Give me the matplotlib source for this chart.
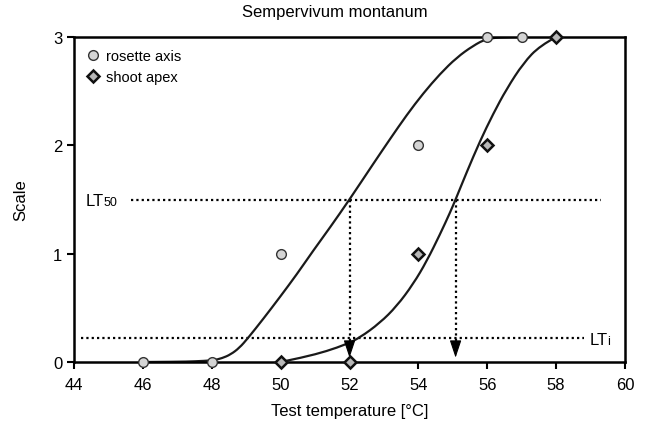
import matplotlib
matplotlib.use("Agg")
import matplotlib.pyplot as plt
from matplotlib.path import Path
from matplotlib.patches import PathPatch

plt.rcParams['font.family'] = ['Liberation Sans', 'DejaVu Sans']

# measured points
rosette_t = [46, 48, 50, 54, 56, 57]
rosette_s = [0, 0, 1, 2, 3, 3]
shoot_t = [50, 52, 54, 56, 58]
shoot_s = [0, 0, 1, 2, 3]

# fitted curves
rosette_fit_t = [46, 47, 47.5, 48.04, 48.3, 48.55, 48.8, 49.05, 49.50, 49.98, 50.47,
                 50.95, 51.43, 52.0, 52.69, 53.18, 53.66, 54.14, 54.63, 55.11, 55.59,
                 55.98, 56.5, 57.0]
rosette_fit_s = [0, 0.002, 0.006, 0.015, 0.035, 0.07, 0.13, 0.22, 0.40, 0.60, 0.81,
                 1.03, 1.24, 1.50, 1.83, 2.06, 2.28, 2.48, 2.66, 2.81, 2.92,
                 2.985, 3.0, 3.0]
shoot_fit_t = [50, 50.66, 51.34, 51.92, 52.30, 52.88, 53.37, 53.85, 54.24, 54.63, 54.92,
               55.08, 55.40, 55.79, 56.17, 56.56, 57.05, 57.53, 58.0]
shoot_fit_s = [0, 0.043, 0.10, 0.166, 0.225, 0.36, 0.515, 0.72, 0.93, 1.18, 1.38,
               1.50, 1.75, 2.04, 2.29, 2.52, 2.76, 2.92, 3.0]

lt50 = 1.5
lti = 0.22
lt50_rosette = 52.0
lt50_shoot = 55.08


def smooth_path(xs, ys):
    # quadratic Bezier through the midpoints, read points act as control points
    pts = list(zip(xs, ys))
    verts = [pts[0]]
    codes = [Path.MOVETO]
    for i in range(1, len(pts) - 1):
        mid = ((pts[i][0] + pts[i + 1][0]) / 2, (pts[i][1] + pts[i + 1][1]) / 2)
        if i == len(pts) - 2:
            mid = pts[-1]
        verts += [pts[i], mid]
        codes += [Path.CURVE3, Path.CURVE3]
    return Path(verts, codes)


fig = plt.figure(figsize=(6.46, 4.35), dpi=100)
ax = fig.add_axes([0.1146, 0.1655, 0.8529, 0.7471])

dots = (0, (1, 1.4))
ax.plot([45.65, 59.3], [lt50, lt50], color='black', lw=1.6, ls=dots, zorder=1)
ax.plot([44.2, 58.8], [lti, lti], color='black', lw=1.6, ls=dots, zorder=1)

for xv in [lt50_rosette, lt50_shoot]:
    ax.plot([xv, xv], [lt50, 0.18], color='black', lw=1.6, ls=dots, zorder=1)
    ax.annotate('', xy=(xv, 0.04), xytext=(xv, 0.19),
                arrowprops=dict(arrowstyle='-|>,head_width=0.3,head_length=0.9',
                                mutation_scale=12, color='black', lw=0.8,
                                shrinkA=0, shrinkB=0), zorder=4)

for xs, ys in [(rosette_fit_t, rosette_fit_s), (shoot_fit_t, shoot_fit_s)]:
    ax.add_patch(PathPatch(smooth_path(xs, ys), facecolor='none', edgecolor='#1a1a1a',
                           lw=1.6, zorder=2))

ax.plot(rosette_t, rosette_s, 'o', ms=7, mfc='#d4d4d4', mec='#333333', mew=1.0,
        ls='none', label='rosette axis', zorder=5, clip_on=False)
ax.plot(shoot_t, shoot_s, 'D', ms=6, mfc='#b8b8b8', mec='#111111', mew=1.8,
        ls='none', label='shoot apex', zorder=5, clip_on=False)

# LT labels with small baseline subscripts
ax.text(44.35, lt50 - 0.05, 'LT', fontsize=12, va='baseline', ha='left')
ax.annotate('50', xy=(44.35, lt50 - 0.05), xytext=(12.8, 0), textcoords='offset points',
            fontsize=9, va='baseline', ha='left')
ax.text(58.97, lti - 0.05, 'LT', fontsize=12, va='baseline', ha='left')
ax.annotate('i', xy=(58.97, lti - 0.05), xytext=(12.8, 0), textcoords='offset points',
            fontsize=9, va='baseline', ha='left')

ax.set_xlim(44, 60)
ax.set_ylim(0, 3)
ax.set_xticks(range(44, 61, 2))
ax.set_yticks([0, 1, 2, 3])
ax.tick_params(direction='out', length=5, width=1.5, labelsize=12, colors='black')
ax.tick_params(axis='x', pad=6)
for sp in ax.spines.values():
    sp.set_linewidth(1.8)

ax.set_xlabel('Test temperature [°C]', fontsize=12, labelpad=8)
ax.set_ylabel('Scale', fontsize=12, labelpad=18)
fig.text(335 / 646, 1 - 13 / 435, 'Sempervivum montanum', fontsize=12,
         ha='center', va='center')

ax.legend(loc='upper left', frameon=False, fontsize=10.5, handletextpad=0.4,
          borderaxespad=0.4, labelspacing=0.5, handlelength=1.0)

fig.savefig('out.png', dpi=100)
